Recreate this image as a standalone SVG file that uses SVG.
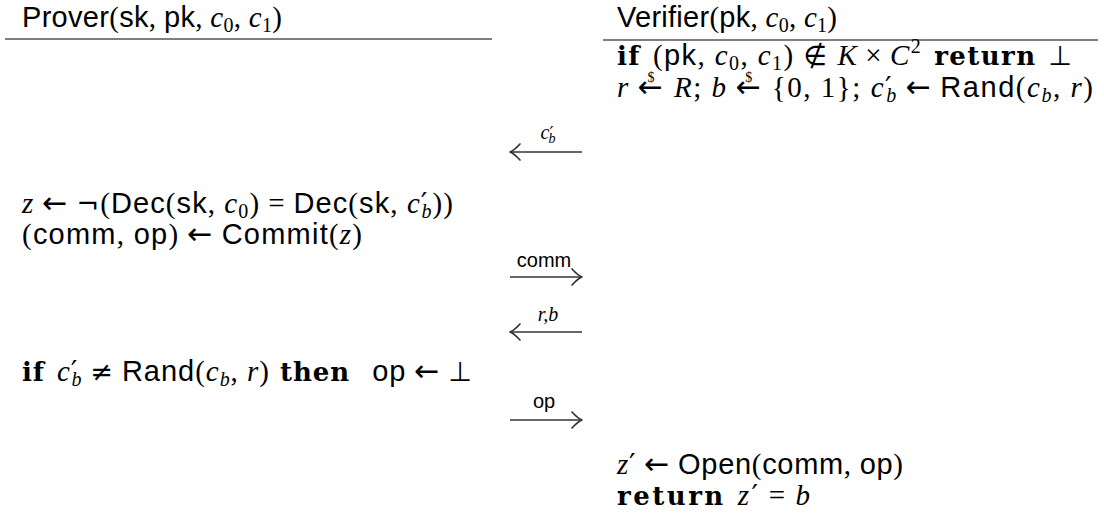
<svg xmlns="http://www.w3.org/2000/svg" width="1104" height="517" viewBox="0 0 1104 517">
<style>
text{font-size:29px;fill:#000;font-family:"Liberation Serif","DejaVu Serif",serif}
.sf{font-family:"Liberation Sans","DejaVu Sans",sans-serif}
.mi{font-family:"Liberation Serif","DejaVu Serif",serif;font-style:italic}
.rm{font-family:"Liberation Serif","DejaVu Serif",serif}
.bf{font-family:"DejaVu Serif",serif;font-weight:bold;font-size:26px}
.ar{font-family:"DejaVu Sans",sans-serif;font-size:30px}
.sy{font-family:"DejaVu Sans",sans-serif;font-size:27px}
.sb{font-size:20px}
.pr{font-size:29px;font-family:"DejaVu Sans",sans-serif}
.dl{font-size:14px;font-family:"Liberation Serif",serif}
.lbl{font-size:20px}
.rule{stroke:#555;stroke-width:1.6}
.conn line{stroke:#333;stroke-width:1.5}
.head{fill:none;stroke:#333;stroke-width:1.7;stroke-linecap:round;stroke-linejoin:round}
</style>
<defs>
<marker id="ah" markerUnits="userSpaceOnUse" viewBox="-14 -10 16 20" refX="0" refY="0" markerWidth="16" markerHeight="20" orient="auto" overflow="visible">
<path class="head" d="M-10,-8 Q-4,-1.5 0,0 Q-4,1.5 -10,8"/>
</marker>
</defs>

<g id="prover-header">
<text x="22" y="27" textLength="260" lengthAdjust="spacing"><tspan class="sf">Prover</tspan><tspan class="rm">(</tspan><tspan class="sf">sk</tspan><tspan class="rm">, </tspan><tspan class="sf">pk</tspan><tspan class="rm">, </tspan><tspan class="mi">c</tspan><tspan class="sb" dy="5">0</tspan><tspan class="rm" dy="-5">, </tspan><tspan class="mi">c</tspan><tspan class="sb" dy="5">1</tspan><tspan class="rm" dy="-5">)</tspan></text>
<line class="rule" x1="5" y1="39" x2="492" y2="39"/>
</g>

<g id="verifier-header">
<text x="617" y="27" textLength="220" lengthAdjust="spacing"><tspan class="sf">Verifier</tspan><tspan class="rm">(</tspan><tspan class="sf">pk</tspan><tspan class="rm">, </tspan><tspan class="mi">c</tspan><tspan class="sb" dy="5">0</tspan><tspan class="rm" dy="-5">, </tspan><tspan class="mi">c</tspan><tspan class="sb" dy="5">1</tspan><tspan class="rm" dy="-5">)</tspan></text>
<line class="rule" x1="603" y1="40" x2="1098" y2="40"/>
</g>

<g id="verifier-check">
<text x="617" y="65" textLength="455" lengthAdjust="spacing"><tspan class="bf">if</tspan><tspan class="rm" dx="12">(</tspan><tspan class="sf">pk</tspan><tspan class="rm">, </tspan><tspan class="mi">c</tspan><tspan class="sb" dy="5">0</tspan><tspan class="rm" dy="-5">, </tspan><tspan class="mi">c</tspan><tspan class="sb" dy="5">1</tspan><tspan class="rm" dy="-5">)</tspan><tspan class="sy" dx="9">∉</tspan><tspan class="mi" dx="9">K</tspan><tspan class="rm" dx="7">×</tspan><tspan class="mi" dx="7">C</tspan><tspan class="sb" dy="-12">2</tspan><tspan class="bf" dx="12" dy="12">return</tspan><tspan class="sy" dx="12">⊥</tspan></text>
</g>

<g id="verifier-sample">
<text x="617" y="97" textLength="476" lengthAdjust="spacing"><tspan class="mi">r</tspan><tspan class="ar" dx="8">←</tspan><tspan class="dl" dx="-17" dy="-15">$</tspan><tspan class="mi" dx="18" dy="15">R</tspan><tspan class="rm">; </tspan><tspan class="mi">b</tspan><tspan class="ar" dx="8">←</tspan><tspan class="dl" dx="-17" dy="-15">$</tspan><tspan class="rm" dx="18" dy="15">{0, 1}; </tspan><tspan class="mi">c</tspan><tspan class="pr">′</tspan><tspan class="mi sb" dx="-7" dy="5">b</tspan><tspan class="ar" dx="8" dy="-5">←</tspan><tspan class="sf" dx="8">Rand</tspan><tspan class="rm">(</tspan><tspan class="mi">c</tspan><tspan class="mi sb" dy="5">b</tspan><tspan class="rm" dy="-5">, </tspan><tspan class="mi">r</tspan><tspan class="rm">)</tspan></text>
</g>

<g id="prover-decide">
<text x="22" y="213" textLength="431" lengthAdjust="spacing"><tspan class="mi">z</tspan><tspan class="ar" dx="8">←</tspan><tspan class="sy" dx="8">¬</tspan><tspan class="rm">(</tspan><tspan class="sf">Dec</tspan><tspan class="rm">(</tspan><tspan class="sf">sk</tspan><tspan class="rm">, </tspan><tspan class="mi">c</tspan><tspan class="sb" dy="5">0</tspan><tspan class="rm" dy="-5">)</tspan><tspan class="rm" dx="8">=</tspan><tspan class="sf" dx="8">Dec</tspan><tspan class="rm">(</tspan><tspan class="sf">sk</tspan><tspan class="rm">, </tspan><tspan class="mi">c</tspan><tspan class="pr">′</tspan><tspan class="mi sb" dx="-7" dy="5">b</tspan><tspan class="rm" dy="-5">))</tspan></text>
</g>

<g id="prover-commit">
<text x="22" y="244" textLength="340" lengthAdjust="spacing"><tspan class="rm">(</tspan><tspan class="sf">comm</tspan><tspan class="rm">, </tspan><tspan class="sf">op</tspan><tspan class="rm">)</tspan><tspan class="ar" dx="8">←</tspan><tspan class="sf" dx="8">Commit</tspan><tspan class="rm">(</tspan><tspan class="mi">z</tspan><tspan class="rm">)</tspan></text>
</g>

<g id="prover-check">
<text x="22" y="381" textLength="450" lengthAdjust="spacing"><tspan class="bf">if</tspan><tspan class="mi" dx="12">c</tspan><tspan class="pr">′</tspan><tspan class="mi sb" dx="-7" dy="5">b</tspan><tspan class="sy" dx="8" dy="-5">≠</tspan><tspan class="sf" dx="8">Rand</tspan><tspan class="rm">(</tspan><tspan class="mi">c</tspan><tspan class="mi sb" dy="5">b</tspan><tspan class="rm" dy="-5">, </tspan><tspan class="mi">r</tspan><tspan class="rm">)</tspan><tspan class="bf" dx="10">then</tspan><tspan class="sf" dx="22">op</tspan><tspan class="ar" dx="8">←</tspan><tspan class="sy" dx="8">⊥</tspan></text>
</g>

<g id="verifier-open">
<text x="617" y="474" textLength="286" lengthAdjust="spacing"><tspan class="mi">z</tspan><tspan class="pr">′</tspan><tspan class="ar" dx="8">←</tspan><tspan class="sf" dx="8">Open</tspan><tspan class="rm">(</tspan><tspan class="sf">comm</tspan><tspan class="rm">, </tspan><tspan class="sf">op</tspan><tspan class="rm">)</tspan></text>
</g>

<g id="verifier-return">
<text x="617" y="505" textLength="193" lengthAdjust="spacing"><tspan class="bf">return</tspan><tspan class="mi" dx="12">z</tspan><tspan class="pr">′</tspan><tspan class="rm" dx="8">=</tspan><tspan class="mi" dx="8">b</tspan></text>
</g>

<g id="connectors" class="conn">
<line x1="582" y1="152" x2="510" y2="152" marker-end="url(#ah)"/>
<text class="lbl" x="548" y="139" text-anchor="middle"><tspan class="mi">c</tspan><tspan style="font-size:18px;font-family:'DejaVu Sans',sans-serif">′</tspan><tspan class="mi" style="font-size:14px" dx="-5" dy="4">b</tspan></text>
<line x1="510" y1="277" x2="582" y2="277" marker-end="url(#ah)"/>
<text class="lbl sf" x="544" y="267" text-anchor="middle">comm</text>
<line x1="582" y1="332" x2="510" y2="332" marker-end="url(#ah)"/>
<text class="lbl mi" x="548" y="321" text-anchor="middle">r,b</text>
<line x1="510" y1="420" x2="582" y2="420" marker-end="url(#ah)"/>
<text class="lbl sf" x="544" y="408" text-anchor="middle">op</text>
</g>
</svg>
